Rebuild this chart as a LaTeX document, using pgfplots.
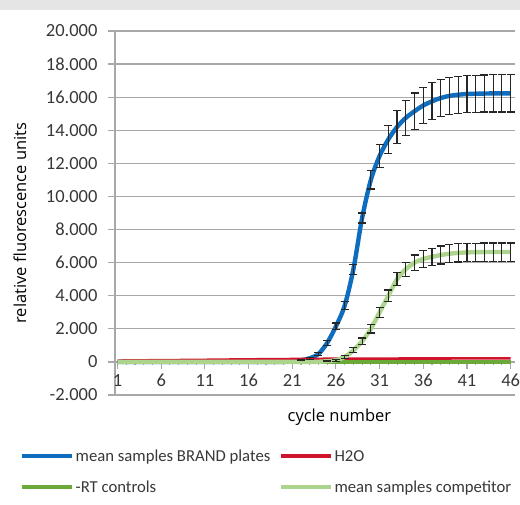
\documentclass[border=0pt]{standalone}
\usepackage{pgfplots}
\usepackage{pgfplotstable}
\pgfplotsset{compat=1.18}
\usepackage{fontspec}
\setmainfont{Carlito}
\newfontfamily\titlefont{Open Sans}
\definecolor{cblue}{HTML}{0E6DBE}
\definecolor{cred}{HTML}{D0142C}
\definecolor{cdgreen}{HTML}{6BAA38}
\definecolor{clgreen}{HTML}{ACD48C}
\definecolor{cgrid}{HTML}{A8A8A8}
\definecolor{ctext}{HTML}{383838}

\pgfplotstableread{
x y e
1 0 0
2 0 0
3 0 0
4 0 0
5 0 0
6 0 0
7 0 0
8 0 0
9 0 0
10 0 0
11 0 0
12 0 0
13 0 0
14 0 0
15 0 0
16 0 0
17 0 0
18 0 0
19 0 0
20 0 0
21 30 0
22 100 30
23 220 60
24 480 100
25 1150 150
26 2150 200
27 3400 250
28 5600 300
29 8700 300
30 11000 550
31 12450 700
32 13450 850
33 14200 1000
34 14750 1050
35 15150 1100
36 15500 1100
37 15750 1120
38 15950 1120
39 16080 1120
40 16150 1120
41 16190 1120
42 16210 1120
43 16220 1120
44 16230 1120
45 16230 1120
46 16230 1120
}\brand

\pgfplotstableread{
x y e
1 0 0
2 0 0
3 0 0
4 0 0
5 0 0
6 0 0
7 0 0
8 0 0
9 0 0
10 0 0
11 0 0
12 0 0
13 0 0
14 0 0
15 0 0
16 0 0
17 0 0
18 0 0
19 0 0
20 0 0
21 0 0
22 0 0
23 0 0
24 10 0
25 40 30
26 100 60
27 300 100
28 700 150
29 1250 200
30 2000 250
31 3000 300
32 4000 350
33 5000 400
34 5600 430
35 6000 460
36 6220 500
37 6350 520
38 6460 540
39 6540 550
40 6590 550
41 6620 550
42 6630 550
43 6640 550
44 6640 550
45 6640 550
46 6640 550
}\competitor

\pgfplotstableread{
x y
1 80
5 100
10 120
15 150
20 170
25 190
30 200
35 205
40 210
46 215
}\water

\pgfplotstableread{
x y
1 0
10 0
20 0
30 0
40 0
46 0
}\rtctrl

\begin{document}
\begin{tikzpicture}[x=1pt,y=1pt]
\begin{axis}[
  scale only axis, width=400pt, height=364pt,
  xmin=0.71, xmax=46.5, ymin=-2000, ymax=20000,
  scaled y ticks=false, scaled x ticks=false,
  axis x line=middle, axis y line=left,
  hide obscured x ticks=false, hide obscured y ticks=false,
  axis line style={-, draw=cgrid, line width=1.3pt},
  ytick={-2000,0,2000,4000,6000,8000,10000,12000,14000,16000,18000,20000},
  yticklabels={-2.000,0,2.000,4.000,6.000,8.000,10.000,12.000,14.000,16.000,18.000,20.000},
  xtick={1,6,11,16,21,26,31,36,41,46},
  xticklabels={1,6,11,16,21,26,31,36,41,46},
  minor xtick={1,...,46},
  ymajorgrids, grid style={draw=cgrid, line width=1.3pt},
  tick align=outside,
  ytick style={draw=cgrid, line width=1.3pt},
  xtick style={draw=cgrid, line width=1pt},
  major tick length=7pt, minor tick length=3.5pt,
  every x tick/.style={draw=cgrid, line width=1.1pt},
  every minor tick/.style={draw=gray, line width=1.1pt},
  tick label style={font=\fontsize{18.5}{22}\selectfont, text=ctext},
  xticklabel style={yshift=-2pt},
  yticklabel style={xshift=-7pt},
  xlabel={\titlefont cycle number},
  ylabel={\titlefont relative fluorescence units},
  label style={font=\fontsize{16.5}{20}\selectfont, text=black},
  xlabel style={at={(axis description cs:0.561,-0.062)}, anchor=center},
  ylabel style={at={(axis description cs:-0.2375,0.4725)}, anchor=center, rotate=0},
  clip=false,
  legend columns=2,
  legend cell align=left,
  legend style={at={(axis description cs:-0.238,-0.146)}, anchor=north west,
    draw=none, fill=none, inner sep=0pt,
    font=\fontsize{16.7}{20}\selectfont, text=ctext,
    row sep=14.5pt,
    nodes={inner sep=1.5pt},
    /tikz/every even column/.append style={column sep=7pt}},
  legend image code/.code={\draw[#1, line width=4.2pt] (0pt,0pt) -- (50pt,0pt);},
]
\coordinate (ll) at (rel axis cs:0,0);
\addplot[cblue, line width=4.4pt, smooth, tension=0.5] table[x=x,y=y]{\brand};
\addlegendentry{mean samples BRAND plates}
\addplot[cred, line width=2.6pt] table[x=x,y=y]{\water};
\addlegendentry{H2O}
\addplot[cdgreen, line width=4pt] table[x=x,y=y]{\rtctrl};
\addlegendentry{-RT controls}
\addplot[clgreen, line width=4.4pt, smooth, tension=0.5] table[x=x,y=y]{\competitor};
\addlegendentry{mean samples competitor}
\addplot[forget plot, draw=none, mark=none, restrict x to domain=22:46,
  error bars/.cd, y dir=both, y explicit,
  error bar style={black!85, line width=1.2pt},
  error mark options={rotate=90, mark size=4pt, black!85, line width=1.2pt}]
  table[x=x,y=y,y error=e]{\brand};
\addplot[forget plot, draw=none, mark=none, restrict x to domain=25:46,
  error bars/.cd, y dir=both, y explicit,
  error bar style={black!85, line width=1.2pt},
  error mark options={rotate=90, mark size=4pt, black!85, line width=1.2pt}]
  table[x=x,y=y,y error=e]{\competitor};
\end{axis}
\pgfresetboundingbox
\path (ll) ++(-115,-109) coordinate (bl);
\useasboundingbox (bl) rectangle ++(520,504);
\fill[gray!20] (bl) ++(0,494) rectangle ++(520,10);
\end{tikzpicture}
\end{document}
